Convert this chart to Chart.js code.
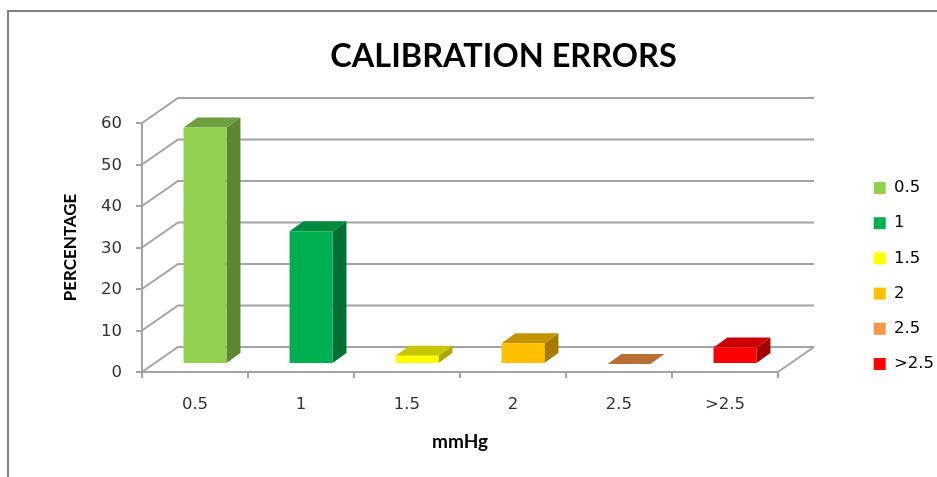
<!DOCTYPE html>
<html>
<head>
<meta charset="utf-8">
<title>Calibration errors</title>
<script src="https://cdn.jsdelivr.net/npm/chart.js@4/dist/chart.umd.min.js"></script>
<style>
    html, body { margin: 0; padding: 0; background: #fff; overflow: hidden; }
    #frame { position: absolute; left: 7px; top: 10px; width: 940px; height: 480px; border-top: 2px solid #808080; border-left: 2px solid #808080; }
    #calibration { position: absolute; left: 0; top: 0; }
</style>
</head>
<body>
<div id="frame"></div>
<canvas id="calibration" width="937" height="477"></canvas>
<script>
(function () {
    'use strict';

    var categories = ['0.5', '1', '1.5', '2', '2.5', '>2.5'];
    var errorShare = [57, 32, 2, 5, 0, 4];
    var yTicks = [0, 10, 20, 30, 40, 50, 60];

    var faceColors = ['#92D050', '#00B050', '#FFFF00', '#FFC000', '#F79646', '#FF0000'];
    var topColors = ['#6F9E3D', '#008A3E', '#C8C800', '#C49400', '#BA7035', '#CC0000'];
    var sideColors = ['#5F8733', '#007035', '#A8A800', '#A67D00', '#94592A', '#A50000'];

    var gridColor = '#A3A3A3';
    var textColor = '#333333';
    var wall = { dx: 36, dy: -25 };     // back wall offset from the front plane
    var barShift = { dx: 10, dy: -8 };  // bars stand a bit inside the floor
    var barDepth = { dx: 14, dy: -10 };
    var tickFont = { family: '"DejaVu Sans"', size: 16.5 };

    function poly(ctx, points, color) {
        ctx.fillStyle = color;
        ctx.beginPath();
        points.forEach(function (p, i) {
            if (i === 0) ctx.moveTo(p[0], p[1]);
            else ctx.lineTo(p[0], p[1]);
        });
        ctx.closePath();
        ctx.fill();
    }

    var box3d = {
        id: 'box3d',
        afterLayout: function (chart) {
            chart.titleBlock.left += 70;
            chart.titleBlock.right += 70;
            chart.legend.left = 855;
            chart.legend.right = 938;
            chart.legend.top = 86;
            chart.legend.bottom = 466;
        },
        beforeDatasetsDraw: function (chart) {
            var ctx = chart.ctx;
            var xs = chart.scales.x;
            var ys = chart.scales.y;
            var left = xs.left, right = xs.right;

            ctx.save();
            ctx.strokeStyle = gridColor;
            ctx.lineWidth = 2;
            yTicks.forEach(function (t) {
                var y = ys.getPixelForValue(t);
                ctx.beginPath();
                ctx.moveTo(left, y);
                ctx.lineTo(left + wall.dx, y + wall.dy);
                ctx.lineTo(right + wall.dx, y + wall.dy);
                ctx.stroke();
            });
            var y0 = ys.getPixelForValue(0);
            ctx.beginPath();
            ctx.moveTo(right, y0);
            ctx.lineTo(right + wall.dx, y0 + wall.dy);
            ctx.stroke();

            chart.getDatasetMeta(0).data.forEach(function (bar, i) {
                var l = bar.x - bar.width / 2 + barShift.dx;
                var r = bar.x + bar.width / 2 + barShift.dx;
                var t = bar.y + barShift.dy;
                var b = bar.base + barShift.dy;
                poly(ctx, [[r, t], [r + barDepth.dx, t + barDepth.dy], [r + barDepth.dx, b + barDepth.dy], [r, b]], sideColors[i]);
                poly(ctx, [[l, t], [l + barDepth.dx, t + barDepth.dy], [r + barDepth.dx, t + barDepth.dy], [r, t]], topColors[i]);
            });
            ctx.restore();
        },
        beforeDatasetDraw: function (chart) {
            chart.ctx.save();
            chart.ctx.translate(barShift.dx, barShift.dy);
        },
        afterDatasetDraw: function (chart) {
            chart.ctx.restore();
        }
    };

    new Chart(document.getElementById('calibration'), {
        type: 'bar',
        data: {
            labels: categories,
            datasets: [{
                data: errorShare,
                backgroundColor: faceColors,
                borderWidth: 0,
                categoryPercentage: 1,
                barPercentage: 0.405,
                clip: false,
            }],
        },
        plugins: [box3d],
        options: {
            responsive: false,
            animation: false,
            layout: { padding: { top: 0, right: 70, bottom: 0, left: 0 } },
            plugins: {
                tooltip: { enabled: false },
                title: {
                    display: true,
                    text: 'CALIBRATION ERRORS',
                    color: '#000',
                    font: { family: 'Lato', size: 32.5, weight: 'bold' },
                    padding: { top: 37, bottom: 47 },
                },
                legend: {
                    position: 'right',
                    labels: {
                        color: textColor,
                        font: tickFont,
                        boxWidth: 12,
                        boxHeight: 12,
                        padding: 18.7,
                        generateLabels: function () {
                            return categories.map(function (name, i) {
                                return { text: name, fillStyle: faceColors[i], strokeStyle: faceColors[i], lineWidth: 0, index: i };
                            });
                        },
                    },
                },
            },
            scales: {
                x: {
                    afterFit: function (s) { s.height = 105; },
                    grid: { drawOnChartArea: false, drawTicks: true, tickLength: 6, color: gridColor, lineWidth: 2 },
                    border: { color: gridColor, width: 2 },
                    ticks: { color: textColor, font: tickFont, padding: 17, maxRotation: 0 },
                    title: {
                        display: true,
                        text: 'mmHg',
                        color: '#000',
                        font: { family: 'Lato', size: 19, weight: 'bold' },
                        padding: { top: 0, bottom: 24 },
                    },
                },
                y: {
                    min: 0,
                    max: 60,
                    afterFit: function (s) { s.width = 142; },
                    afterBuildTicks: function (s) {
                        s.ticks = yTicks.map(function (v) { return { value: v }; });
                    },
                    grid: { drawOnChartArea: false, drawTicks: true, tickLength: 6, color: gridColor, lineWidth: 2 },
                    border: { color: gridColor, width: 2 },
                    ticks: { color: textColor, font: tickFont, padding: 14, labelOffset: 1 },
                    title: {
                        display: true,
                        text: 'PERCENTAGE',
                        color: '#000',
                        font: { family: 'Lato', size: 17, weight: 'bold' },
                        padding: { top: 60, bottom: 0 },
                    },
                },
            },
        },
    });
})();
</script>
</body>
</html>
